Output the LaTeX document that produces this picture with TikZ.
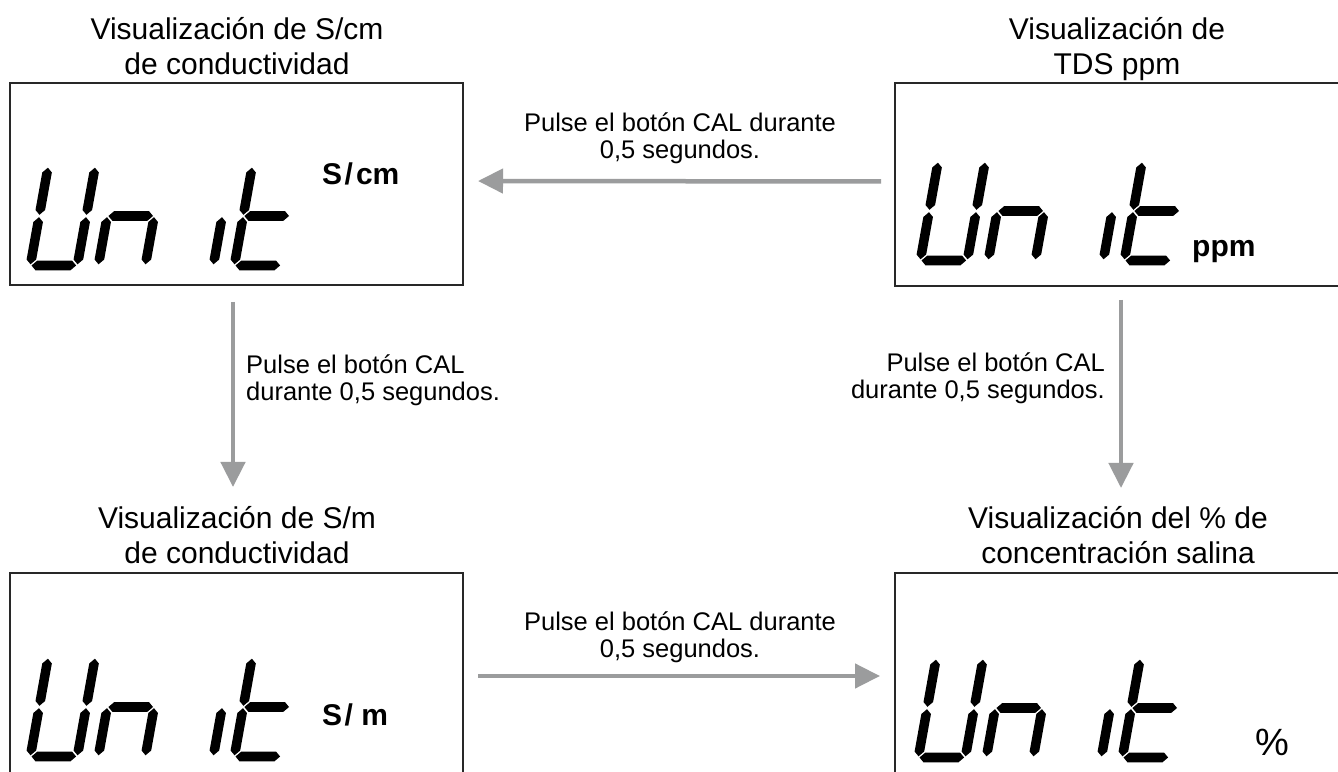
\documentclass[tikz,border=0pt]{standalone}
\usepackage{fontspec}
\setmainfont{Liberation Sans}
\usetikzlibrary{arrows.meta}
\definecolor{arrowgray}{RGB}{155,156,157}
\definecolor{boxline}{RGB}{40,40,40}
\def\sgap{1.2}
\def\shalf{4.8}
\newcommand\vseg[3]{\fill (#1,#2+\sgap) -- (#1+\shalf,#2+\sgap+\shalf) -- (#1+\shalf,#3-\sgap-\shalf) -- (#1,#3-\sgap) -- (#1-\shalf,#3-\sgap-\shalf) -- (#1-\shalf,#2+\sgap+\shalf) -- cycle;}
\newcommand\hseg[3]{\fill (#1+\sgap,#3) -- (#1+\sgap+\shalf,#3+\shalf) -- (#2-\sgap-\shalf,#3+\shalf) -- (#2-\sgap,#3) -- (#2-\sgap-\shalf,#3-\shalf) -- (#1+\sgap+\shalf,#3-\shalf) -- cycle;}
\newcommand\unitword[2]{%
  \begin{scope}[shift={(#1,#2)},xslant=0.18]
    % U
    \vseg{51.5}{54}{103.5}\vseg{51.5}{4.5}{54}\hseg{4.5}{51.5}{4.5}\vseg{4.5}{4.5}{54}\vseg{4.5}{54}{103.5}
    % n
    \begin{scope}[xshift=68pt]
      \vseg{51.5}{4.5}{54}\vseg{4.5}{4.5}{54}\hseg{4.5}{51.5}{54}
    \end{scope}
    % i
    \begin{scope}[xshift=136pt]
      \vseg{51.5}{4.5}{54}
    \end{scope}
    % t
    \begin{scope}[xshift=204pt]
      \hseg{4.5}{51.5}{4.5}\vseg{4.5}{4.5}{54}\vseg{4.5}{54}{103.5}\hseg{4.5}{51.5}{54}
    \end{scope}
  \end{scope}}
\tikzset{
  box/.style={draw=boxline, line width=1.6pt, inner sep=0pt, outer sep=0pt},
  arr/.style={draw=arrowgray, line width=4.5pt, -{Triangle[length=25pt,width=24pt]}},
  ttl/.style={font=\fontsize{30}{35}\selectfont, align=center, anchor=base, inner sep=0pt},
  lbl/.style={font=\fontsize{25.5}{27}\selectfont, inner sep=0pt, anchor=base},
  unit/.style={font=\fontsize{30}{30}\selectfont\bfseries, inner sep=0pt, anchor=base west},
}
\begin{document}
\begin{tikzpicture}[x=1pt,y=1pt]
\useasboundingbox (0,0) rectangle (1338,771);
\fill[white] (0,0) rectangle (1338,771);
\clip (0,0) rectangle (1338,771);
% boxes
\node[box, minimum width=453pt, minimum height=202pt] (b1) at (236.5,587) {};
\node[box, minimum width=450pt, minimum height=203pt] (b2) at (1120,586.5) {};
\node[box, minimum width=453pt, minimum height=208pt] (b3) at (236.5,94) {};
\node[box, minimum width=450pt, minimum height=208pt] (b4) at (1120,94) {};
% titles (anchor = baseline of last line)
\node[ttl] (t1) at (237,696) {Visualización de S/cm\\de conductividad};
\node[ttl] (t2) at (1117,696) {Visualización de\\TDS ppm};
\node[ttl] (t3) at (237,207) {Visualización de S/m\\de conductividad};
\node[ttl] (t4) at (1118,207) {Visualización del \% de\\concentración salina};
% displays
\unitword{25}{501}
\unitword{915}{506}
\unitword{25}{10}
\unitword{913}{9}
\node[unit] (u1) at (322,586) {S\kern2.5pt/\kern3pt cm};
\node[unit] (u2) at (1192,514) {ppm};
\node[unit] (u3) at (322,46) {S\kern2.5pt/ m};
\node[font=\fontsize{38}{38}\selectfont, inner sep=0pt, anchor=base west] (u4) at (1255,16) {\%};
% arrows
\draw[arr, shorten <=14pt, shorten >=15pt] ([yshift=3pt]b2.west) -- ([yshift=3pt]b1.east);
\draw[arr, shorten <=15pt, shorten >=15pt] ([yshift=1pt]b3.east) -- ([yshift=1pt]b4.west);
\draw[arr, shorten <=17pt, shorten >=86pt] ([xshift=-3.5pt]b1.south) -- ([xshift=-3.5pt]b3.north);
\draw[arr, shorten <=14pt, shorten >=85pt] ([xshift=1pt]b2.south) -- ([xshift=1pt]b4.north);
% labels (anchor = baseline of last line)
\node[lbl, align=center] (l1) at (680,612) {Pulse el botón CAL durante\\0,5 segundos.};
\node[lbl, align=left, anchor=base west] (l2) at (246,370) {Pulse el botón CAL\\durante 0,5 segundos.};
\node[lbl, align=right, anchor=base east] (l3) at (1105,372) {Pulse el botón CAL\\durante 0,5 segundos.};
\node[lbl, align=center] (l4) at (680,113) {Pulse el botón CAL durante\\0,5 segundos.};
\end{tikzpicture}
\end{document}
